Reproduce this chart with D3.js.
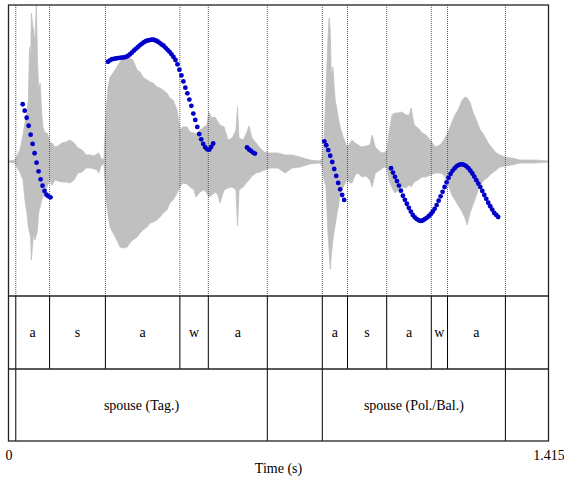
<!DOCTYPE html>
<html>
<head>
<meta charset="utf-8">
<script src="https://cdn.jsdelivr.net/npm/d3@7"></script>
<style>
  html, body { margin: 0; padding: 0; background: #fff; }
  svg { display: block; }
  text { font-family: "Liberation Serif", "Times New Roman", serif; font-size: 14px; fill: #000; }
</style>
</head>
<body>
<svg id="chart" width="564" height="482"></svg>
<script>
// ---- sound: amplitude envelope (time in s, upper and lower extremes) ----
const waveTime = [0, 0.017, 0.022, 0.030, 0.038, 0.043, 0.049, 0.052, 0.055, 0.058, 0.060, 0.063, 0.066, 0.069, 0.073, 0.076, 0.079, 0.083, 0.087, 0.090,
  0.096, 0.101, 0.105, 0.109, 0.114, 0.122, 0.130, 0.140, 0.151, 0.161, 0.172, 0.182, 0.193, 0.203, 0.214, 0.224, 0.232, 0.237, 0.242, 0.250,
  0.256, 0.261, 0.266, 0.274, 0.284, 0.292, 0.300, 0.311, 0.318, 0.326, 0.337, 0.345, 0.352, 0.363, 0.371, 0.379, 0.389, 0.397, 0.405, 0.415,
  0.423, 0.431, 0.442, 0.449, 0.457, 0.468, 0.476, 0.486, 0.491, 0.502, 0.512, 0.520, 0.525, 0.533, 0.541, 0.549, 0.554, 0.565, 0.575, 0.586,
  0.596, 0.600, 0.604, 0.615, 0.625, 0.630, 0.638, 0.649, 0.659, 0.670, 0.685, 0.706, 0.725, 0.743, 0.764, 0.790, 0.816, 0.822, 0.827, 0.832,
  0.837, 0.840, 0.843, 0.846, 0.850, 0.856, 0.861, 0.865, 0.869, 0.877, 0.887, 0.895, 0.900, 0.908, 0.916, 0.926, 0.937, 0.947, 0.953, 0.961,
  0.974, 0.984, 0.992, 0.997, 1.005, 1.013, 1.021, 1.031, 1.042, 1.050, 1.055, 1.063, 1.073, 1.084, 1.094, 1.105, 1.118, 1.131, 1.141, 1.152,
  1.162, 1.170, 1.178, 1.189, 1.196, 1.202, 1.210, 1.217, 1.228, 1.236, 1.246, 1.257, 1.267, 1.278, 1.288, 1.301, 1.319, 1.340, 1.380, 1.415];
const waveMax = [0.005, 0.015, 0.055, 0.115, 0.265, 0.385, 0.515, 0.615, 1.145, 1.015, 1.485, 1.365, 1.315, 1.165, 1.565, 1.015, 0.715, 0.785, 0.485, 0.345,
  0.285, 0.285, 0.245, 0.185, 0.185, 0.145, 0.155, 0.185, 0.195, 0.215, 0.185, 0.135, 0.115, 0.065, 0.065, 0.055, 0.075, 0.085, 0.035, 0.015,
  0.515, 0.745, 0.845, 0.885, 0.945, 0.995, 1.035, 1.045, 1.035, 1.015, 0.915, 0.895, 0.845, 0.815, 0.795, 0.785, 0.745, 0.735, 0.715, 0.685,
  0.635, 0.615, 0.515, 0.315, 0.345, 0.345, 0.295, 0.285, 0.275, 0.315, 0.345, 0.365, 0.495, 0.435, 0.445, 0.395, 0.365, 0.345, 0.215, 0.235,
  0.315, 0.545, 0.235, 0.215, 0.295, 0.355, 0.235, 0.185, 0.135, 0.095, 0.085, 0.085, 0.065, 0.065, 0.045, 0.015, 0.005, 0.035, 0.215, 0.715,
  1.215, 1.435, 1.315, 0.845, 0.945, 0.615, 0.515, 0.415, 0.345, 0.245, 0.145, 0.185, 0.215, 0.185, 0.165, 0.145, 0.155, 0.165, 0.265, 0.145,
  0.095, 0.085, 0.115, 0.285, 0.465, 0.485, 0.485, 0.495, 0.465, 0.465, 0.535, 0.365, 0.335, 0.285, 0.265, 0.215, 0.145, 0.165, 0.215, 0.295,
  0.395, 0.465, 0.515, 0.615, 0.645, 0.635, 0.585, 0.495, 0.395, 0.315, 0.265, 0.185, 0.135, 0.085, 0.065, 0.045, 0.035, 0.015, 0.015, 0.005];
const waveMin = [-0.005, -0.015, -0.055, -0.105, -0.185, -0.385, -0.535, -0.655, -0.705, -0.755, -0.985, -0.835, -0.715, -0.785, -0.735, -0.685, -0.515, -0.455, -0.385, -0.355,
  -0.305, -0.255, -0.215, -0.185, -0.235, -0.185, -0.195, -0.205, -0.205, -0.215, -0.185, -0.115, -0.105, -0.065, -0.065, -0.075, -0.085, -0.115, -0.045, -0.015,
  -0.385, -0.535, -0.655, -0.715, -0.785, -0.855, -0.865, -0.855, -0.815, -0.785, -0.755, -0.715, -0.685, -0.655, -0.615, -0.605, -0.585, -0.555, -0.515, -0.485,
  -0.415, -0.385, -0.315, -0.255, -0.215, -0.225, -0.255, -0.285, -0.355, -0.305, -0.285, -0.315, -0.355, -0.335, -0.305, -0.335, -0.415, -0.285, -0.265, -0.255,
  -0.285, -0.645, -0.285, -0.255, -0.205, -0.185, -0.145, -0.115, -0.105, -0.085, -0.065, -0.065, -0.115, -0.065, -0.055, -0.025, -0.015, -0.045, -0.185, -0.255,
  -0.715, -0.885, -1.075, -0.935, -0.785, -0.635, -0.515, -0.435, -0.315, -0.255, -0.185, -0.215, -0.215, -0.135, -0.115, -0.155, -0.145, -0.185, -0.255, -0.115,
  -0.085, -0.055, -0.065, -0.185, -0.265, -0.315, -0.285, -0.255, -0.265, -0.235, -0.255, -0.205, -0.185, -0.155, -0.155, -0.135, -0.115, -0.115, -0.135, -0.235,
  -0.335, -0.385, -0.435, -0.505, -0.565, -0.635, -0.505, -0.435, -0.315, -0.235, -0.185, -0.155, -0.115, -0.085, -0.055, -0.045, -0.035, -0.015, -0.015, -0.005];
const waveRange = [-1.345, 1.565];

// ---- pitch contour (Hz), one value per analysis frame ----
const pitchStep = 0.0052;
const pitchStart = [0.0372, 0.2607, 0.6250, 0.8275, 1.0023];
const pitchHz1 = [231.8, 227.4, 222.5, 217.0, 210.9, 204.5, 198.1, 191.6, 185.7, 180.2, 175.8, 172.2, 169.6, 168.5, 167.8];
const pitchHz2 = [261.0, 262.0, 262.7, 263.0, 263.3, 263.5, 263.7, 263.9, 264.0, 264.3, 265.0, 266.0, 267.2, 268.6, 269.8, 271.0, 272.3, 273.3,
  274.3, 275.1, 275.6, 275.9, 276.2, 276.1, 275.6, 274.9, 274.0, 272.9, 272.0, 270.6, 269.2, 267.8, 266.1, 264.3, 262.2, 259.2,
  255.5, 251.6, 247.5, 243.2, 239.3, 235.0, 230.7, 225.4, 221.0, 216.2, 211.3, 207.7, 204.5, 202.2, 200.8, 200.6, 202.4, 204.8];
const pitchHz3 = [202.1, 200.7, 199.7, 198.6, 197.9];
const pitchHz4 = [206.3, 203.6, 200.3, 196.4, 192.1, 187.3, 182.5, 177.7, 173.3, 169.4, 166.0];
const pitchHz5 = [187.8, 184.8, 181.9, 179.0, 175.9, 172.4, 168.9, 166.1, 163.4, 160.6, 158.0, 155.7, 154.0, 152.9, 152.0, 151.6, 151.9, 152.8,
  153.7, 154.8, 156.2, 157.9, 159.9, 162.5, 165.5, 168.5, 171.6, 174.9, 178.1, 181.2, 183.9, 186.0, 187.7, 189.1, 190.0, 190.4,
  190.5, 190.0, 189.1, 187.8, 186.1, 184.2, 182.0, 179.6, 177.3, 175.0, 172.2, 169.4, 166.8, 164.1, 161.7, 159.4, 157.1, 155.7, 154.3];
const pitchRange = [100, 300];

// ---- annotation tiers ----
const tier1Bounds = [0.0191, 0.1077, 0.2539, 0.4491, 0.5236, 0.6782, 0.8223, 0.8883, 0.9910, 1.1079, 1.1504, 1.3021];
const tier1Labels = ["", "a", "s", "a", "w", "a", "", "a", "s", "a", "w", "a", ""];
const tier2Bounds = [0.0191, 0.6782, 0.8223, 1.3021];
const tier2Labels = ["", "spouse (Tag.)", "", "spouse (Pol./Bal.)", ""];

// ---- time axis ----
const timeDomain = [0, 1.415];
const timeTicks = [0, 1.415];
const timeTickLabels = ["0", "1.415"];
const timeTitle = "Time (s)";

// ---- layout ----
const left = 8.5, right = 548.5;
const soundTop = 5, soundBottom = 296, tierMid = 369, tierBottom = 441;

const svg = d3.select("#chart");
const x = d3.scaleLinear().domain(timeDomain).range([left, right]);
const yWave = d3.scaleLinear().domain(waveRange).range([soundBottom, soundTop]);
const yPitch = d3.scaleLinear().domain(pitchRange).range([soundBottom, soundTop]);

// waveform
const waveData = waveTime.map((t, i) => ({ t, hi: waveMax[i], lo: waveMin[i] }));
svg.append("path")
  .datum(waveData)
  .attr("fill", "#c0c0c0")
  .attr("stroke", "#c0c0c0")
  .attr("stroke-width", 0.8)
  .attr("d", d3.area().x(d => x(d.t)).y0(d => yWave(d.lo)).y1(d => yWave(d.hi)));

// dotted boundary guides across the sound panel
svg.append("g").selectAll("line")
  .data(tier1Bounds)
  .join("line")
  .attr("x1", d => x(d)).attr("x2", d => x(d))
  .attr("y1", soundTop).attr("y2", soundBottom)
  .attr("stroke", "#555")
  .attr("stroke-width", 1)
  .attr("stroke-dasharray", "1,1");

// pitch points
const pitchSeries = [pitchHz1, pitchHz2, pitchHz3, pitchHz4, pitchHz5];
const pitchPoints = pitchSeries.flatMap((arr, s) =>
  arr.map((hz, i) => ({ t: pitchStart[s] + i * pitchStep, hz })));
svg.append("g").selectAll("circle")
  .data(pitchPoints)
  .join("circle")
  .attr("cx", d => x(d.t))
  .attr("cy", d => yPitch(d.hz))
  .attr("r", 2.4)
  .attr("fill", "#0000c8");

// tiers
function drawTier(bounds, labels, y0, y1) {
  const edges = [timeDomain[0], ...bounds, timeDomain[1]];
  const g = svg.append("g");
  g.selectAll("line")
    .data(bounds)
    .join("line")
    .attr("x1", d => x(d)).attr("x2", d => x(d))
    .attr("y1", y0).attr("y2", y1)
    .attr("stroke", "#000")
    .attr("stroke-width", 1);
  g.selectAll("text")
    .data(labels.map((lab, i) => ({ lab, a: edges[i], b: edges[i + 1] })).filter(d => d.lab))
    .join("text")
    .attr("x", d => x((d.a + d.b) / 2))
    .attr("y", (y0 + y1) / 2 + 4.5)
    .attr("text-anchor", "middle")
    .text(d => d.lab);
}
drawTier(tier1Bounds, tier1Labels, soundBottom, tierMid);
drawTier(tier2Bounds, tier2Labels, tierMid, tierBottom);

// frame and tier separators
svg.append("rect")
  .attr("x", left).attr("y", soundTop)
  .attr("width", right - left).attr("height", tierBottom - soundTop)
  .attr("fill", "none").attr("stroke", "#222").attr("stroke-width", 1.3);
[soundBottom, tierMid].forEach(yy => {
  svg.append("line")
    .attr("x1", left).attr("x2", right).attr("y1", yy).attr("y2", yy)
    .attr("stroke", "#222").attr("stroke-width", 1.3);
});

// time axis
const axis = d3.axisBottom(x)
  .tickValues(timeTicks)
  .tickSize(0)
  .tickPadding(9)
  .tickFormat((d, i) => timeTickLabels[i]);
const ax = svg.append("g").attr("transform", `translate(0,${tierBottom})`).call(axis);
ax.select(".domain").remove();
ax.selectAll("text")
  .attr("font-family", "Liberation Serif, Times New Roman, serif")
  .attr("font-size", 14)
  .attr("fill", "#000");

svg.append("text")
  .attr("x", (left + right) / 2)
  .attr("y", 473)
  .attr("text-anchor", "middle")
  .text(timeTitle);
</script>
</body>
</html>
